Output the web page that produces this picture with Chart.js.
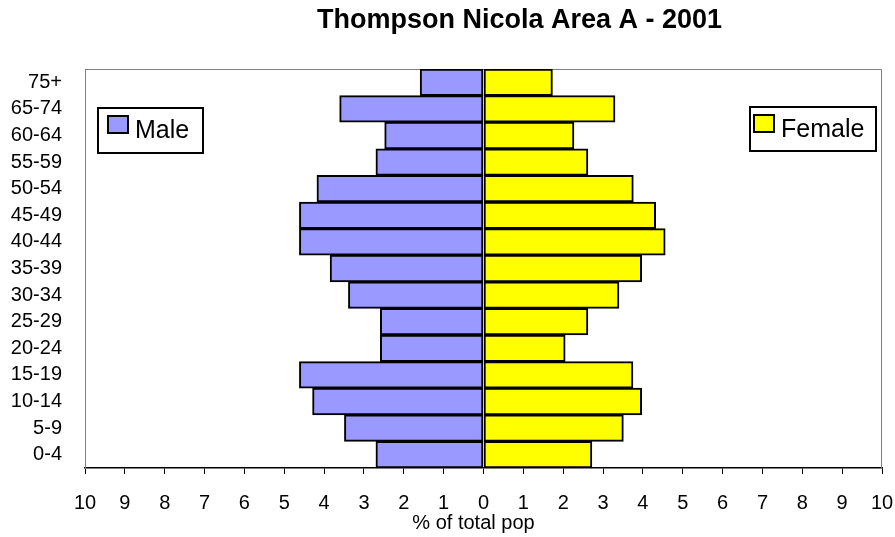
<!DOCTYPE html>
<html>
<head>
<meta charset="utf-8">
<script src="https://cdn.jsdelivr.net/npm/chart.js@4/dist/chart.umd.min.js"></script>
<style>
	html, body { margin: 0; padding: 0; background: #fff; }
	#wrap { width: 895px; height: 537px; }
</style>
</head>
<body>
<div id="wrap"><canvas id="pyramid"></canvas></div>
<script>
// age groups, bottom row first
const ageGroups = ['0-4', '5-9', '10-14', '15-19', '20-24', '25-29', '30-34', '35-39',
	'40-44', '45-49', '50-54', '55-59', '60-64', '65-74', '75+'];
// % of total population
const malePct = [2.70, 3.49, 4.29, 4.62, 2.59, 2.59, 3.39, 3.85, 4.62, 4.62, 4.18, 2.70, 2.48, 3.61, 1.59];
const femalePct = [2.72, 3.51, 3.97, 3.75, 2.05, 2.62, 3.40, 3.97, 4.56, 4.32, 3.76, 2.62, 2.27, 3.30, 1.73];
const tickLabels = ['10', '9', '8', '7', '6', '5', '4', '3', '2', '1', '0',
	'1', '2', '3', '4', '5', '6', '7', '8', '9', '10'];

const chartTitle = 'Thompson Nicola Area A - 2001';
const axisTitle = '% of total pop';
const FONT = '"Liberation Sans", Arial, sans-serif';

// title, axis title and the two separate legend boxes
const decorPlugin = {
	id: 'decor',
	beforeDatasetsDraw(chart) {
		const ctx = chart.ctx;
		const a = chart.chartArea;
		ctx.save();
		ctx.strokeStyle = '#808080';
		ctx.lineWidth = 1;
		ctx.beginPath();
		ctx.moveTo(a.left, a.top + 0.5);
		ctx.lineTo(a.right - 0.5, a.top + 0.5);
		ctx.lineTo(a.right - 0.5, a.bottom);
		ctx.stroke();
		ctx.restore();
	},
	afterDraw(chart) {
		const ctx = chart.ctx;
		const a = chart.chartArea;
		const mid = (a.left + a.right) / 2;
		ctx.save();
		ctx.fillStyle = '#000';
		ctx.textBaseline = 'middle';
		ctx.textAlign = 'center';
		ctx.font = 'bold 27px ' + FONT;
		ctx.fillText(chartTitle, mid + 36, 21);
		ctx.font = '20px ' + FONT;
		ctx.fillText(axisTitle, mid - 10, 523);

		const drawLegend = (ds, x, y, w, h, sx) => {
			ctx.lineWidth = 2;
			ctx.strokeStyle = '#000';
			ctx.fillStyle = '#fff';
			ctx.fillRect(x, y, w, h);
			ctx.strokeRect(x, y, w, h);
			ctx.fillStyle = ds.backgroundColor;
			ctx.fillRect(x + sx, y + 8, 20, 17);
			ctx.strokeRect(x + sx, y + 8, 20, 17);
			ctx.fillStyle = '#000';
			ctx.textAlign = 'left';
			ctx.font = '25px ' + FONT;
			ctx.fillText(ds.label, x + sx + 27, y + h / 2 + 1);
		};
		const sets = chart.data.datasets;
		drawLegend(sets[0], a.left + 13, a.top + 39, 105, 45, 10);
		drawLegend(sets[1], a.right - 132, a.top + 38, 126, 44, 4);
		ctx.restore();
	}
};

new Chart(document.getElementById('pyramid'), {
	type: 'bar',
	data: {
		labels: ageGroups,
		datasets: [{
			label: 'Male',
			data: malePct.map(v => -v),
			backgroundColor: '#9999FF',
			borderColor: '#000',
			borderWidth: 2,
			borderSkipped: false
		}, {
			label: 'Female',
			data: femalePct,
			backgroundColor: '#FFFF00',
			borderColor: '#000',
			borderWidth: 2,
			borderSkipped: false
		}]
	},
	options: {
		indexAxis: 'y',
		responsive: true,
		maintainAspectRatio: false,
		animation: false,
		datasets: { bar: { categoryPercentage: 1, barPercentage: 1 } },
		layout: { padding: { top: 69, right: 13, left: 0, bottom: 0 } },
		plugins: {
			legend: { display: false },
			title: { display: false },
			tooltip: { enabled: false }
		},
		scales: {
			x: {
				type: 'linear',
				min: -10,
				max: 10,
				stacked: true,
				grid: { drawOnChartArea: false, drawTicks: true, tickLength: 6, color: '#000' },
				border: { color: '#000', width: 1.5 },
				ticks: {
					stepSize: 1,
					color: '#000',
					padding: 17,
					maxRotation: 0,
					autoSkip: false,
					font: { family: FONT, size: 20 },
					callback: (value, index) => tickLabels[index]
				},
				afterFit: scale => {
					scale.height = 69;
					scale.paddingLeft = 0;
					scale.paddingRight = 0;
				}
			},
			y: {
				stacked: true,
				reverse: true,
				grid: { display: false, drawTicks: false },
				border: { color: '#808080', width: 1 },
				ticks: {
					color: '#000',
					padding: 23,
					autoSkip: false,
					font: { family: FONT, size: 20 }
				},
				afterFit: scale => {
					scale.width = 85;
					scale.paddingTop = 0;
					scale.paddingBottom = 0;
				}
			}
		}
	},
	plugins: [decorPlugin]
});
</script>
</body>
</html>
